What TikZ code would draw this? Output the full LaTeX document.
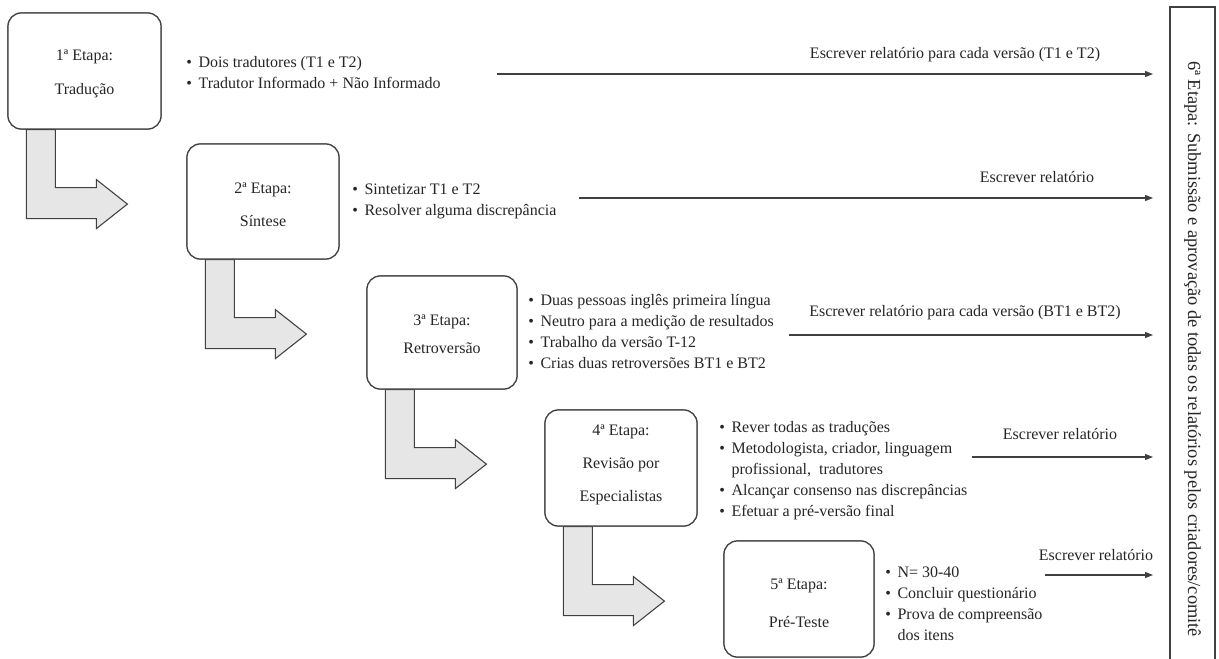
\documentclass[tikz,border=0pt]{standalone}
\usepackage{fontspec}
\setmainfont{Liberation Serif}
\usetikzlibrary{arrows.meta,calc}
\definecolor{linegray}{RGB}{64,64,64}
\definecolor{bendfill}{RGB}{231,230,230}
\definecolor{txt}{RGB}{38,38,38}
\begin{document}
\begin{tikzpicture}[x=0.75pt,y=-0.75pt,
  stagebox/.style={draw=linegray, line width=0.9pt, rounded corners=10pt, fill=white, inner sep=0pt},
  stagetext/.style={align=center, font=\fontsize{12pt}{25pt}\selectfont, text=txt, inner sep=0pt},
  bullets/.style={anchor=west, inner sep=0pt, font=\fontsize{12pt}{15.75pt}\selectfont, text=txt},
  replabel/.style={font=\fontsize{12pt}{14pt}\selectfont, text=txt, inner sep=0pt},
  conn/.style={draw=linegray, line width=0.8pt, -{Triangle[length=6pt,width=4.5pt]}},
  bendarrow/.style={draw=linegray, fill=bendfill, line width=0.8pt, line join=miter},
  lbend/.pic={\path[bendarrow] (19,0) -- (48,0) -- (48,58) -- (89,58) -- (89,50) -- (120,74.5) -- (89,99) -- (89,89) -- (19,89) -- cycle;}
]
\fill[white] (0,0) rectangle (1219,659);
\useasboundingbox (0,0) rectangle (1219,659);

% stage boxes (geometry)
\node[stagebox, minimum width=114.75pt, minimum height=87pt] (b1) at (84.5,71) {};
\node[stagebox, minimum width=114pt, minimum height=86.25pt] (b2) at (263,201.5) {};
\node[stagebox, minimum width=112.5pt, minimum height=84.75pt] (b3) at (442,332.5) {};
\node[stagebox, minimum width=114pt, minimum height=87pt] (b4) at (621,468) {};
\node[stagebox, minimum width=112.5pt, minimum height=87pt] (b5) at (799,599) {};

% bent arrows
\pic at (b1.south west) {lbend};
\pic at (b2.south west) {lbend};
\pic at (b3.south west) {lbend};
\pic at (b4.south west) {lbend};

% redraw boxes on top
\node[stagebox, minimum width=114.75pt, minimum height=87pt] at (b1.center) {};
\node[stagebox, minimum width=114pt, minimum height=86.25pt] at (b2.center) {};
\node[stagebox, minimum width=112.5pt, minimum height=84.75pt] at (b3.center) {};
\node[stagebox, minimum width=114pt, minimum height=87pt] at (b4.center) {};
\node[stagebox, minimum width=112.5pt, minimum height=87pt] at (b5.center) {};

% box texts
\node[stagetext] (t1) at (84.5,74) {1ª Etapa:\\Tradução};
\node[stagetext] (t2) at (263,205) {2ª Etapa:\\Síntese};
\node[stagetext, font=\fontsize{12pt}{21pt}\selectfont] (t3) at (442,334) {3ª Etapa:\\Retroversão};
\node[stagetext] (t4) at (621,465) {4ª Etapa:\\Revisão por\\Especialistas};
\node[stagetext, font=\fontsize{12pt}{28.5pt}\selectfont] (t5) at (799,603) {5ª Etapa:\\Pré-Teste};

% bullet lists
\node[bullets] (l1) at (186,74) {\begin{tabular}{@{}l@{\hspace{5pt}}l@{}}
\textbullet & Dois tradutores (T1 e T2)\\
\textbullet & Tradutor Informado + Não Informado
\end{tabular}};
\node[bullets] (l2) at (352,201) {\begin{tabular}{@{}l@{\hspace{5pt}}l@{}}
\textbullet & Sintetizar T1 e T2\\
\textbullet & Resolver alguma discrepância
\end{tabular}};
\node[bullets] (l3) at (528,333) {\begin{tabular}{@{}l@{\hspace{5pt}}l@{}}
\textbullet & Duas pessoas inglês primeira língua\\
\textbullet & Neutro para a medição de resultados\\
\textbullet & Trabalho da versão T-12\\
\textbullet & Crias duas retroversões BT1 e BT2
\end{tabular}};
\node[bullets] (l4) at (719,470) {\begin{tabular}{@{}l@{\hspace{5pt}}l@{}}
\textbullet & Rever todas as traduções\\
\textbullet & Metodologista, criador, linguagem\\
 & profissional,\ \ tradutores\\
\textbullet & Alcançar consenso nas discrepâncias\\
\textbullet & Efetuar a pré-versão final
\end{tabular}};
\node[bullets] (l5) at (885,605) {\begin{tabular}{@{}l@{\hspace{5pt}}l@{}}
\textbullet & N= 30-40\\
\textbullet & Concluir questionário\\
\textbullet & Prova de compreensão\\
 & dos itens
\end{tabular}};

% final stage box
\node[draw=linegray, line width=0.9pt, rotate=-90, minimum width=513pt, minimum height=33.75pt,
      inner sep=0pt, font=\fontsize{13.8pt}{16pt}\selectfont, text=txt] (b6) at (1192.5,349)
      {6ª Etapa: Submissão e aprovação de todas os relatórios pelos criadores/comitê};

% report arrows
\coordinate (s1) at (497,74);  \coordinate (e1) at (1153,74);
\coordinate (s2) at (579,198); \coordinate (e2) at (1153,198);
\coordinate (s3) at (789,335); \coordinate (e3) at (1153,335);
\coordinate (s4) at (972,457); \coordinate (e4) at (1153,457);
\coordinate (s5) at (1045,575); \coordinate (e5) at (1153,575);
\draw[conn] (s1) -- (e1);
\draw[conn] (s2) -- (e2);
\draw[conn] (s3) -- (e3);
\draw[conn] (s4) -- (e4);
\draw[conn] (s5) -- (e5);

\node[replabel] (r1) at (955,55) {Escrever relatório para cada versão (T1 e T2)};
\node[replabel] (r2) at (1037,177) {Escrever relatório};
\node[replabel] (r3) at (965,313) {Escrever relatório para cada versão (BT1 e BT2)};
\node[replabel] (r4) at (1060,434) {Escrever relatório};
\node[replabel] (r5) at (1096,555) {Escrever relatório};
\end{tikzpicture}
\end{document}
